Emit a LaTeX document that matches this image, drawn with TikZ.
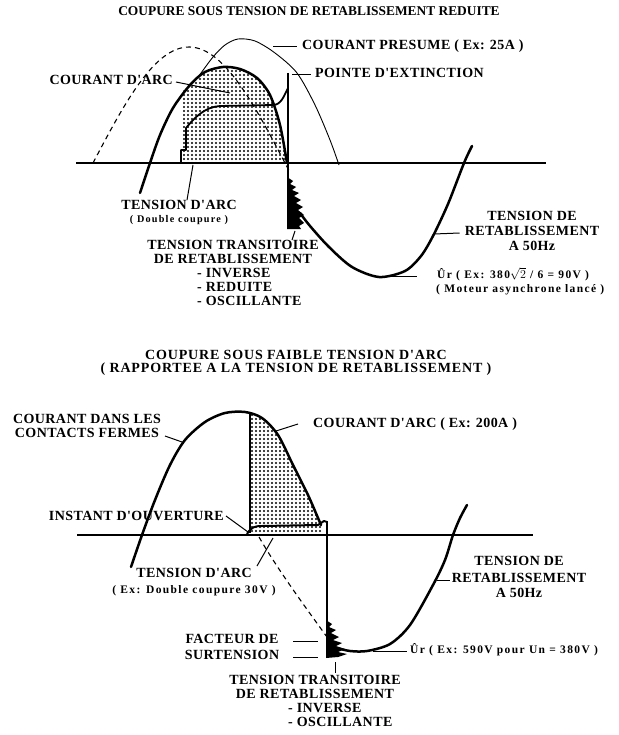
\documentclass[tikz,border=0pt]{standalone}
\usepackage{fontspec}
\setmainfont{Liberation Serif}
\newfontfamily\labfam{Liberation Serif}[LetterSpace=3]
\newfontfamily\titfam{Liberation Serif}
\newfontfamily\titbfam{Liberation Serif}[LetterSpace=6]
\newfontfamily\smallfam{Liberation Serif}[LetterSpace=12]
\newcommand\labfont{\labfam\bfseries\fontsize{14}{16}\selectfont}
\newcommand\titfont{\titfam\bfseries\fontsize{13.4}{15}\selectfont}
\newcommand\titbfont{\titbfam\bfseries\fontsize{14}{16}\selectfont}
\newcommand\smallfont{\smallfam\bfseries\fontsize{11.5}{13}\selectfont}
\newcommand\smallerfont{\smallfam\bfseries\fontsize{10.2}{12}\selectfont}
\usetikzlibrary{patterns}
\pgfdeclarepatternformonly{stip}{\pgfpoint{-1.2pt}{-1.2pt}}{\pgfpoint{1.2pt}{1.2pt}}{\pgfpoint{4pt}{4pt}}{%
  \pgfpathcircle{\pgfpointorigin}{1.05pt}\pgfusepath{fill}}
\tikzset{
  curvethick/.style={line width=2.5pt, line cap=round, line join=round},
  curvethin/.style={line width=0.9pt},
  curvedash/.style={line width=1.1pt, dash pattern=on 5pt off 4pt},
  axisline/.style={line width=1.8pt},
  vline/.style={line width=1.6pt},
  lead/.style={line width=1pt},
  lab/.style={font=\labfont, inner sep=0pt, anchor=mid},
  tit/.style={font=\titfont, inner sep=0pt, anchor=mid},
  titb/.style={font=\titbfont, inner sep=0pt, anchor=mid},
  sm/.style={font=\smallfont, inner sep=0pt, anchor=mid},
  smr/.style={font=\smallerfont, inner sep=0pt, anchor=mid},
  stipfill/.style={pattern=stip}
}
\begin{document}
\begin{tikzpicture}[x=1pt,y=-1pt]
\fill[white] (0,0) rectangle (618,735);
\useasboundingbox (0,0) rectangle (618,735);

% ================= TOP GRAPH =================
\node[tit] (t1) at (309,13) {COUPURE SOUS TENSION DE RETABLISSEMENT REDUITE};

% stipple
\fill[stipfill] (183,163) -- plot[smooth] coordinates {(183,91) (190,85) (205,72) (223,67) (240,69) (257,78) (270,95) (280,125) (287,163)} -- cycle;

% axis
\draw[axisline] (76,163) -- (546,163);

% dashed voltage
\draw[curvedash] plot[domain=93:290, samples=60] (\x, {163-116*sin((\x-93)/192*180)});

% presumed current (thin)
\draw[curvethin] plot[smooth] coordinates {(189,87) (198,77) (213,57) (225,45) (238,39) (255,41) (275,53) (297,73) (315,105) (330,140) (339,165)};

% arc current (thick)
\draw[curvethick] plot[smooth] coordinates {(140,193) (150,163) (160,135) (173,108) (190,85) (205,72) (223,67) (240,69) (257,78) (270,95) (280,125) (287,163)};

% arc voltage
\draw[line width=1.8pt, line join=round] (181,163) -- (181,150) -- (186,150) -- (186,128)
  .. controls (195,117) and (205,107) .. (220,106) -- (273,105)
  .. controls (281,105) and (284,96) .. (288,88);

% extinction spike
\draw[vline] (288,73) -- (288,229);
\fill (287,177) -- (293,181) -- (290,184) -- (296,187) -- (292,190) -- (299,193) -- (294,196)
  -- (301,200) -- (296,203) -- (303,207) -- (298,210) -- (304,215) -- (299,218) -- (304,223)
  -- (299,226) -- (301,229) -- (287,229) -- cycle;

% recovery voltage
\draw[curvethick] plot[smooth] coordinates {(300,213) (310,226) (329,247) (352,267) (379,277) (405,271) (421,256) (433,236) (448,204) (464,163) (472,146)};

% labels top
\node[lab, anchor=mid west] (cp) at (302,47) {COURANT PRESUME ( Ex: 25A )};
\coordinate (cpA) at (273,47);
\draw[lead] (cpA) -- ([xshift=-5pt]cp.mid west);

\node[lab, anchor=mid west] (pe) at (315,75) {POINTE D'EXTINCTION};
\coordinate (peA) at (292,75);
\draw[lead] (peA) -- ([xshift=-4pt]pe.mid west);

\node[lab, anchor=mid east] (ca) at (173,82) {COURANT D'ARC};
\coordinate (caA) at (230,93);
\draw[lead] ([xshift=3pt]ca.mid east) -- (caA);

\node[lab] (ta) at (179,207) {TENSION D'ARC};
\node[smr] (tb) at (179,220) {( Double coupure )};
\coordinate (taA) at (193,165);
\coordinate (taB) at (187,200);
\draw[lead] (taB) -- (taA);

\node[lab] (tt1) at (233,247) {TENSION TRANSITOIRE};
\node[lab] (tt2) at (233,261) {DE RETABLISSEMENT};
\node[lab, anchor=mid west] (tt3) at (197,275) {- INVERSE};
\node[lab, anchor=mid west] (tt4) at (197,289) {- REDUITE};
\node[lab, anchor=mid west] (tt5) at (197,303) {- OSCILLANTE};
\coordinate (ttA) at (295,231);
\coordinate (ttB) at (292,240);
\draw[lead] (ttB) -- (ttA);

\node[lab] (tr1) at (532,218) {TENSION DE};
\node[lab] (tr2) at (532,233) {RETABLISSEMENT};
\node[lab] (tr3) at (532,248) {A 50Hz};
\coordinate (trA) at (434,234);
\draw[lead] (trA) -- ([xshift=-5pt]tr2.mid west);

\node[sm, anchor=mid west] (ur) at (437,276) {Ûr ( Ex: 380$\sqrt{2}$ / 6 = 90V )};
\node[sm, anchor=mid west] (mo) at (436,290) {( Moteur asynchrone lancé )};
\coordinate (urA) at (391,276);
\coordinate (urB) at (417,276);
\draw[lead] (urA) -- (urB);

% ================= BOTTOM GRAPH =================
\node[titb] (t2) at (296,357) {COUPURE SOUS FAIBLE TENSION D'ARC};
\node[titb] (t3) at (296,370) {( RAPPORTEE A LA TENSION DE RETABLISSEMENT )};

% stipple
\fill[stipfill] (250,533) -- plot[smooth] coordinates {(250,413) (262,418) (278,435) (293,465) (308,495) (318,518) (321,525)} -- (321,533) -- cycle;

% axis
\draw[axisline] (77,535) -- (533,535);

% current
\draw[curvethick] plot[smooth] coordinates {(131,567) (142,535) (155,500) (170,465) (185,440) (205,422) (225,413) (245,412) (262,418) (278,435) (293,465) (308,495) (318,518) (321,525)};

% opening instant vertical
\draw[vline] (250,533) -- (250,413);

% arc voltage
\draw[line width=2pt, line join=round] (247,534) .. controls (251,527) and (255,526) .. (262,526) -- (318,525) -- (324,521) -- (327,522);

% drop
\draw[vline] (327,521) -- (327,657);

% dashed prospective voltage
\draw[curvedash] (259,537) .. controls (275,565) and (300,600) .. (327,637);

% oscillation blob
\fill (326,620) -- (332,624) -- (329,627) -- (336,630) -- (331,633) -- (339,637) -- (333,640)
  -- (342,643) -- (336,646) -- (345,649) -- (338,652) -- (347,654) -- (338,657) -- (326,658) -- cycle;

% recovery voltage
\draw[curvethick] plot[smooth] coordinates {(337,648) (350,651) (367,651) (390,644) (410,625) (433,585) (445,560) (453,535) (460,518) (467,505)};

% labels bottom
\node[lab] (cd1) at (87,421) {COURANT DANS LES};
\node[lab] (cd2) at (87,435) {CONTACTS FERMES};
\coordinate (cdA) at (182,442);
\coordinate (cdB) at (165,436);
\draw[lead] (cdB) -- (cdA);

\node[lab, anchor=mid west] (ca2) at (313,425) {COURANT D'ARC ( Ex: 200A )};
\coordinate (ca2A) at (276,431);
\coordinate (ca2B) at (298,424);
\draw[lead] (ca2A) -- (ca2B);

\node[lab, anchor=mid east] (io) at (224,518) {INSTANT D'OUVERTURE};
\coordinate (ioA) at (248,532);
\draw[lead] ([xshift=2pt,yshift=2pt]io.mid east) -- (ioA);

\node[lab] (ta2) at (194,575) {TENSION D'ARC};
\node[sm] (tb2) at (194,591) {( Ex: Double coupure 30V )};
\coordinate (ta2A) at (273,538);
\coordinate (ta2B) at (257,566);
\draw[lead] (ta2B) -- (ta2A);

\node[lab] (tr4) at (519,563) {TENSION DE};
\node[lab] (tr5) at (519,580) {RETABLISSEMENT};
\node[lab] (tr6) at (519,595) {A 50Hz};
\coordinate (tr5A) at (437,580);
\draw[lead] (tr5A) -- ([xshift=-2pt]tr5.mid west);

\node[lab] (fs1) at (232,641) {FACTEUR DE};
\node[lab] (fs2) at (232,657) {SURTENSION};
\coordinate (fsA) at (318,641);
\coordinate (fsB) at (318,657);
\coordinate (fsA0) at (293,641);
\coordinate (fsB0) at (293,657);
\draw[lead] (fsA0) -- (fsA);
\draw[lead] (fsB0) -- (fsB);

\node[sm, anchor=mid west] (ur2) at (410,651) {Ûr ( Ex: 590V pour Un = 380V )};
\coordinate (ur2A) at (373,651);
\draw[lead] (ur2A) -- ([xshift=-3pt]ur2.mid west);

\coordinate (tt6A) at (335,662);
\coordinate (tt6B) at (335,673);
\draw[lead] (tt6A) -- (tt6B);
\node[lab] (tt6) at (315,682) {TENSION TRANSITOIRE};
\node[lab] (tt7) at (315,696) {DE RETABLISSEMENT};
\node[lab, anchor=mid west] (tt8) at (288,710) {- INVERSE};
\node[lab, anchor=mid west] (tt9) at (288,724) {- OSCILLANTE};
\end{tikzpicture}
\end{document}
